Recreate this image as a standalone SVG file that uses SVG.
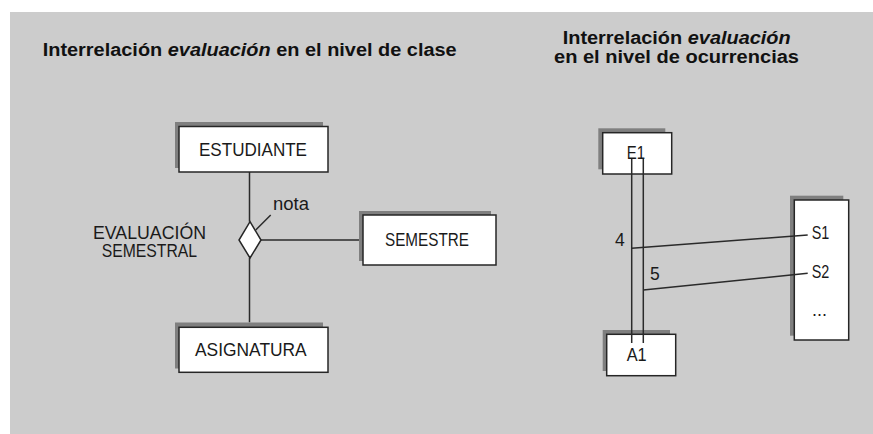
<svg xmlns="http://www.w3.org/2000/svg" width="873" height="434" viewBox="0 0 873 434">
<style>
.bg{fill:#cccccc}
.sh{fill:#7f7f7f}
.box{fill:#ffffff;stroke:#262626;stroke-width:1.5}
.ln{stroke:#2a2a2a;stroke-width:1.5;fill:none}
.t{font-family:"Liberation Sans",Arial,sans-serif;font-size:17.5px;fill:#1a1a1a}
.h{font-family:"Liberation Sans",Arial,sans-serif;font-size:17.5px;font-weight:bold;fill:#111111}
.i{font-style:italic}
</style>
<rect x="0" y="0" width="873" height="434" fill="#ffffff"/>
<rect class="bg" x="10" y="12" width="863" height="422"/>

<text class="h" x="42.7" y="56" textLength="414" lengthAdjust="spacingAndGlyphs">Interrelación <tspan class="i">evaluación</tspan> en el nivel de clase</text>
<text class="h" x="562.7" y="44" textLength="228" lengthAdjust="spacingAndGlyphs">Interrelación <tspan class="i">evaluación</tspan></text>
<text class="h" x="554" y="62.7" textLength="245" lengthAdjust="spacingAndGlyphs">en el nivel de ocurrencias</text>

<g id="connectors">
<line class="ln" x1="249.5" y1="172" x2="249.5" y2="221.7"/>
<line class="ln" x1="249.5" y1="258" x2="249.5" y2="322.3"/>
<line class="ln" x1="261" y1="240" x2="359" y2="240"/>
<line class="ln" x1="255.7" y1="230" x2="270.7" y2="215"/>
</g>

<g id="estudiante">
<rect class="sh" x="175" y="122" width="148" height="46"/>
<rect class="box" x="179" y="126.5" width="149" height="45.5"/>
<text class="t" x="199" y="155.5" textLength="108" lengthAdjust="spacingAndGlyphs">ESTUDIANTE</text>
</g>

<g id="asignatura">
<rect class="sh" x="175" y="322.5" width="148" height="46"/>
<rect class="box" x="179" y="327.3" width="149" height="45"/>
<text class="t" x="195" y="356" textLength="111.7" lengthAdjust="spacingAndGlyphs">ASIGNATURA</text>
</g>

<g id="semestre">
<rect class="sh" x="359" y="211" width="132" height="50"/>
<rect class="box" x="363" y="215" width="133" height="50"/>
<text class="t" x="385" y="246" textLength="84" lengthAdjust="spacingAndGlyphs">SEMESTRE</text>
</g>

<g id="evaluacion">
<polygon class="box" points="250,221.7 261,240 250,258 239,240"/>
<text class="t" x="93" y="238.7" textLength="113" lengthAdjust="spacingAndGlyphs">EVALUACIÓN</text>
<text class="t" x="101.7" y="256.7" textLength="95.3" lengthAdjust="spacingAndGlyphs">SEMESTRAL</text>
<text class="t" x="273" y="210" textLength="36" lengthAdjust="spacingAndGlyphs">nota</text>
</g>

<g id="e1">
<rect class="sh" x="598.3" y="128.3" width="67" height="41"/>
<rect class="box" x="602.7" y="132.7" width="69" height="41.3"/>
<text class="t" x="626.7" y="159.3" textLength="18.3" lengthAdjust="spacingAndGlyphs">E1</text>
</g>

<g id="a1">
<rect class="sh" x="602.7" y="330" width="67.3" height="41"/>
<rect class="box" x="606.7" y="334.3" width="69" height="41.4"/>
<text class="t" x="626.7" y="361" textLength="20" lengthAdjust="spacingAndGlyphs">A1</text>
</g>

<g id="semestres">
<rect class="sh" x="790" y="195.7" width="53.3" height="140"/>
<rect class="box" x="794.3" y="200" width="54.4" height="140"/>
<text class="t" x="811.7" y="239.3" textLength="17.6" lengthAdjust="spacingAndGlyphs">S1</text>
<text class="t" x="811.7" y="277.7" textLength="17.6" lengthAdjust="spacingAndGlyphs">S2</text>
<text class="t" x="812" y="316" textLength="15" lengthAdjust="spacingAndGlyphs">...</text>
</g>

<g id="occurrence-links">
<line class="ln" x1="631.7" y1="159" x2="631.7" y2="343"/>
<line class="ln" x1="643.3" y1="159" x2="643.3" y2="343"/>
<line class="ln" x1="631.7" y1="248.3" x2="807.7" y2="235"/>
<line class="ln" x1="643.3" y1="290" x2="807.7" y2="273.3"/>
<text class="t" x="615" y="245.7">4</text>
<text class="t" x="650" y="280">5</text>
</g>
</svg>
